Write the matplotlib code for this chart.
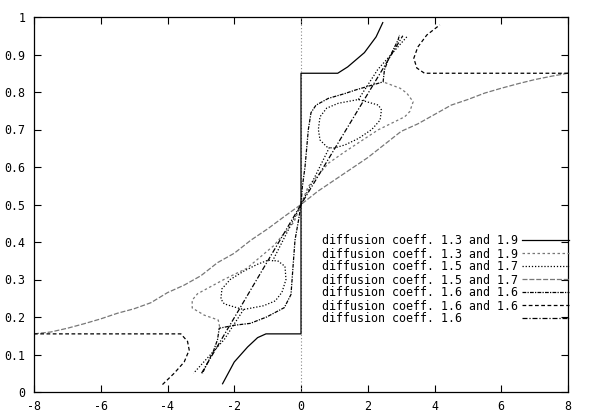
import matplotlib
matplotlib.use("Agg")
import matplotlib.pyplot as plt
import numpy as np

# step curve, coeff 1.3 / 1.9
step_x = [-2.35, -2.0, -1.6, -1.3, -1.05, 0, 0, 1.1, 1.4, 1.9, 2.25, 2.45]
step_y = [0.022, 0.08, 0.12, 0.145, 0.155, 0.155, 0.85, 0.85, 0.867, 0.905, 0.947, 0.985]

# diagonal with the bend, coeff 1.3 / 1.9 (second)
diag_up_x = [0, 0.21, 0.82, 1.32, 2.31, 3.11, 3.26, 3.36, 3.17, 2.97, 2.46]
diag_up_y = [0.5, 0.547, 0.61, 0.641, 0.699, 0.734, 0.748, 0.774, 0.797, 0.81, 0.827]
diag_lo_x = [0, -0.21, -0.82, -1.62, -2.31, -3.1, -3.26, -3.26, -2.9, -2.48, -2.43]
diag_lo_y = [0.5, 0.453, 0.39, 0.33, 0.30, 0.262, 0.245, 0.224, 0.205, 0.192, 0.17]

# inner loops, coeff 1.5 / 1.7: tail to the loop, the loop itself, tail from the junction
loop_up_x = [0, 0.45, 0.85, 0.77, 0.57, 0.52, 0.57, 0.77, 1.12, 1.72, 1.97, 2.32, 2.41, 2.37,
             2.12, 1.72, 1.32, 0.97, 0.85, np.nan, 1.72, 2.3, 3.2]
loop_up_y = [0.5, 0.58, 0.652, 0.654, 0.672, 0.70, 0.734, 0.757, 0.77, 0.78, 0.774, 0.765, 0.752, 0.725,
             0.70, 0.676, 0.659, 0.65, 0.652, np.nan, 0.78, 0.86, 0.95]
loop_lo_x = [0, -0.45, -0.85, -0.97, -1.32, -1.72, -2.12, -2.37, -2.4, -2.3, -1.97, -1.72, -1.12,
             -0.77, -0.57, -0.45, -0.48, -0.7, -0.85, np.nan, -1.72, -2.3, -3.22]
loop_lo_y = [0.5, 0.42, 0.35, 0.352, 0.34, 0.322, 0.30, 0.275, 0.248, 0.235, 0.226, 0.22, 0.23,
             0.243, 0.266, 0.30, 0.335, 0.35, 0.35, np.nan, 0.22, 0.14, 0.05]

# outer curve, coeff 1.5 / 1.7 (second)
outer_x = [-8, -7.5, -7, -6.5, -6, -5.5, -5, -4.5, -4, -3.5, -3, -2.5, -2, -1.5, -1, -0.5, 0,
           0.5, 1, 1.5, 2, 2.5, 3, 3.5, 4, 4.5, 5, 5.5, 6, 6.5, 7, 7.5, 8]
outer_y = [0.155, 0.16, 0.17, 0.182, 0.195, 0.21, 0.222, 0.238, 0.265, 0.285, 0.31, 0.345, 0.37,
           0.405, 0.435, 0.468, 0.5, 0.535, 0.565, 0.595, 0.625, 0.66, 0.695, 0.715, 0.74, 0.765,
           0.78, 0.797, 0.81, 0.822, 0.833, 0.842, 0.85]

# wing curves, coeff 1.6 / 1.6
wing_up_x = [0, 0.04, 0.12, 0.22, 0.3, 0.45, 0.82, 1.32, 1.62, 2.0, 2.46, 2.5, 2.61, 2.76, 2.91, 2.95]
wing_up_y = [0.5, 0.547, 0.60, 0.70, 0.745, 0.765, 0.783, 0.796, 0.805, 0.815, 0.827, 0.859, 0.885,
             0.912, 0.939, 0.952]
wing_lo_x = [0, -0.07, -0.18, -0.24, -0.3, -0.5, -1.03, -1.52, -2.0, -2.45, -2.5, -2.62, -2.76, -2.9, -2.95]
wing_lo_y = [0.5, 0.46, 0.405, 0.333, 0.26, 0.225, 0.2, 0.183, 0.178, 0.17, 0.14, 0.11, 0.085, 0.06, 0.05]

# hook curves, coeff 1.6 / 1.6 (second)
hook_up_x = [8, 3.7, 3.47, 3.38, 3.5, 3.77, 4.16]
hook_up_y = [0.85, 0.85, 0.864, 0.89, 0.92, 0.952, 0.979]
hook_lo_x = [-8, -3.6, -3.4, -3.35, -3.5, -3.8, -4.16]
hook_lo_y = [0.155, 0.155, 0.135, 0.112, 0.08, 0.05, 0.019]

# straight line, coeff 1.6
line_x = [-2.98, 0, 3.05]
line_y = [0.05, 0.5, 0.95]

labels = ["diffusion coeff. 1.3 and 1.9", "diffusion coeff. 1.3 and 1.9",
          "diffusion coeff. 1.5 and 1.7", "diffusion coeff. 1.5 and 1.7",
          "diffusion coeff. 1.6 and 1.6", "diffusion coeff. 1.6 and 1.6",
          "diffusion coeff. 1.6" + " " * 8]


def join(xa, ya, xb, yb):
    return xa + [np.nan] + xb, ya + [np.nan] + yb


fig = plt.figure(figsize=(5.96, 4.2), dpi=100)
ax = fig.add_axes([34 / 596, 28 / 420, 534 / 596, 375 / 420])

ax.axvline(0, color="#888888", lw=0.8, ls=(0, (1, 2)))

lw = 0.9
ax.plot(step_x, step_y, color="black", lw=lw, label=labels[0])
x, y = join(diag_up_x, diag_up_y, diag_lo_x, diag_lo_y)
ax.plot(x, y, color="#777777", lw=lw, ls=(0, (2, 2)), label=labels[1])
x, y = join(loop_up_x, loop_up_y, loop_lo_x, loop_lo_y)
ax.plot(x, y, color="black", lw=lw, ls=(0, (1, 1.5)), label=labels[2])
ax.plot(outer_x, outer_y, color="#777777", lw=lw, ls=(0, (4, 1.5)), label=labels[3])
x, y = join(wing_up_x, wing_up_y, wing_lo_x, wing_lo_y)
ax.plot(x, y, color="black", lw=lw, ls=(0, (3, 1, 1, 1)), label=labels[4])
x, y = join(hook_up_x, hook_up_y, hook_lo_x, hook_lo_y)
ax.plot(x, y, color="black", lw=lw, ls=(0, (3, 2)), label=labels[5])
ax.plot(line_x, line_y, color="black", lw=lw, ls=(0, (4, 1.5, 1, 1.5)), label=labels[6])

ax.set_xlim(-8, 8)
ax.set_ylim(0, 1)
ax.set_xticks(np.arange(-8, 9, 2))
ax.set_yticks(np.arange(0, 1.01, 0.1))
ax.set_xticklabels([str(v) for v in range(-8, 9, 2)])
ax.set_yticklabels(["0"] + ["0.%d" % i for i in range(1, 10)] + ["1"])
ax.tick_params(direction="in", top=True, right=True, length=5, width=0.8, labelsize=8.4, pad=6)
for lab in ax.get_xticklabels() + ax.get_yticklabels():
    lab.set_family("DejaVu Sans Mono")
for sp in ax.spines.values():
    sp.set_linewidth(0.9)

ax.legend(loc="upper left", bbox_to_anchor=(0.539, 0.42), frameon=False, markerfirst=False,
          prop={"family": "DejaVu Sans Mono", "size": 8.4}, handlelength=4.0, handletextpad=0.4,
          labelspacing=0.0, borderaxespad=0, borderpad=0)

fig.savefig("out.png", dpi=100)
